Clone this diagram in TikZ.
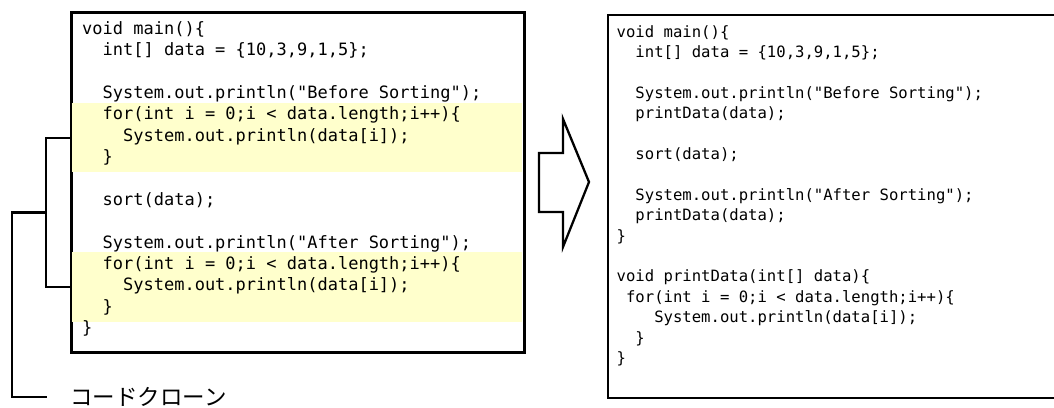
\documentclass[tikz,border=0pt]{standalone}
\usepackage{fontspec}
\setmonofont{DejaVu Sans Mono}
\newfontfamily\jpfont{Noto Sans CJK JP}
\usetikzlibrary{calc}
\definecolor{hilite}{RGB}{255,255,204}

% one line of code, and a block of lines whose baseline is the first line's
\newcommand\cl[1]{\hbox{#1}}
\newcommand\codeblock[3]{\vtop{\fontsize{#1}{#2}\ttfamily\selectfont #3}}

\tikzset{
  outline/.style={draw=black, line width=2.3pt},
  codebox/.style={outline, fill=white, inner sep=0pt, anchor=north west},
  band/.style={fill=hilite, draw=none, inner sep=0pt, anchor=north west},
  code/.style={anchor=base west, inner sep=0pt},
  bracket/.style={draw=black, line width=2.3pt, line join=miter},
}

\begin{document}
\begin{tikzpicture}[x=1pt, y=-1pt]
\useasboundingbox (0,0) rectangle (1054,407);
\clip (0,0) rectangle (1054,407);

% ---- original program with duplicated loops ----
\node[codebox, minimum width=452pt, minimum height=339pt] (before) at (71,12) {};
\node[band, minimum width=451pt, minimum height=69pt] (band1) at (71,103) {};
\node[band, minimum width=451pt, minimum height=70pt] (band2) at (71,252) {};
\draw[outline] (before.north west) rectangle (before.south east);

\node[code] (beforecode) at (82,34) {\codeblock{17}{21.4}{%
  \cl{void main()\{}
  \cl{\ \ int[] data = \{10,3,9,1,5\};}
  \cl{}
  \cl{\ \ System.out.println("Before Sorting");}
  \cl{\ \ for(int i = 0;i < data.length;i++)\{}
  \cl{\ \ \ \ System.out.println(data[i]);}
  \cl{\ \ \}}
  \cl{}
  \cl{\ \ sort(data);}
  \cl{}
  \cl{\ \ System.out.println("After Sorting");}
  \cl{\ \ for(int i = 0;i < data.length;i++)\{}
  \cl{\ \ \ \ System.out.println(data[i]);}
  \cl{\ \ \}}
  \cl{\}}}};

% ---- bracket marking the clone pair ----
\node[anchor=west, inner sep=0pt, font=\jpfont\fontsize{22.5}{27}\selectfont] (clone) at (70,397) {コードクローン};
\draw[bracket] (band1.west) -- ++(-25,0) coordinate (btop) |- (band2.west);
\path (btop) -- (btop |- band2.west) coordinate[midway] (bmid);
\draw[bracket] (bmid) -- ++(-34,0) |- ([xshift=-23pt]clone.west);

% ---- refactoring arrow ----
\draw[outline, fill=white, line join=miter]
  (539,153) -- (563,153) -- (563,119) -- (589,182) -- (563,247) -- (563,212) -- (539,212) -- cycle;

% ---- refactored program ----
\node[codebox, minimum width=470pt, minimum height=383pt] (after) at (607,14) {};
\node[code] (aftercode) at (616.5,37) {\codeblock{15.6}{20.4}{%
  \cl{void main()\{}
  \cl{\ \ int[] data = \{10,3,9,1,5\};}
  \cl{}
  \cl{\ \ System.out.println("Before Sorting");}
  \cl{\ \ printData(data);}
  \cl{}
  \cl{\ \ sort(data);}
  \cl{}
  \cl{\ \ System.out.println("After Sorting");}
  \cl{\ \ printData(data);}
  \cl{\}}
  \cl{}
  \cl{void printData(int[] data)\{}
  \cl{\ for(int i = 0;i < data.length;i++)\{}
  \cl{\ \ \ \ System.out.println(data[i]);}
  \cl{\ \ \}}
  \cl{\}}}};
\end{tikzpicture}
\end{document}
